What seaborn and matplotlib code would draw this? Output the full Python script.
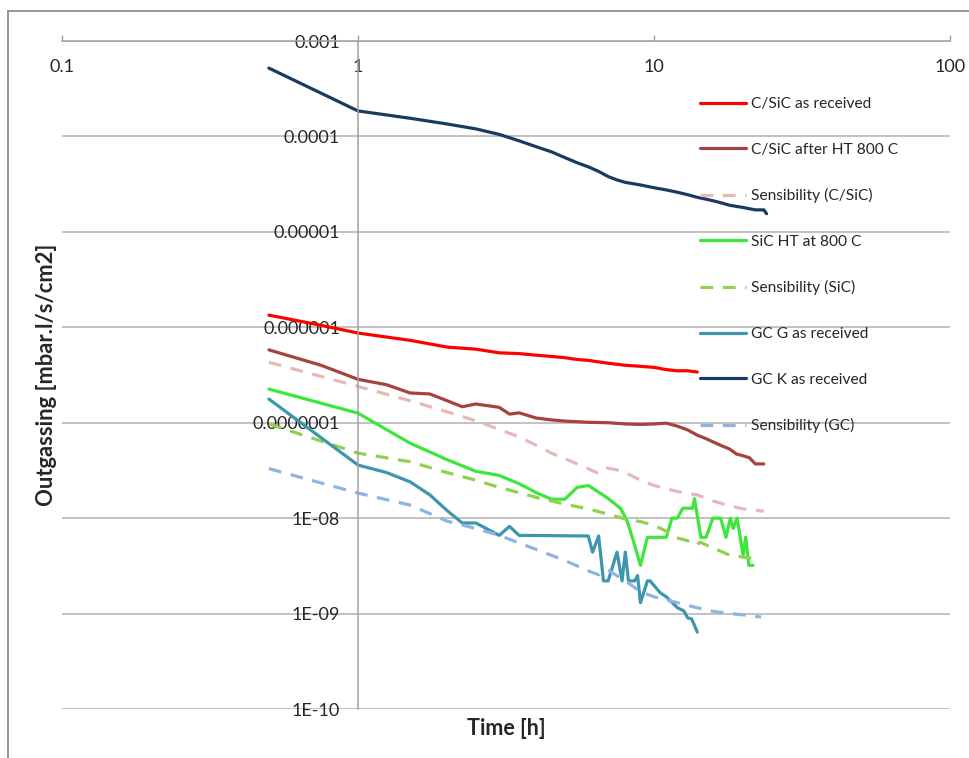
import numpy as np
import pandas as pd
import matplotlib
matplotlib.use("Agg")
import matplotlib.pyplot as plt
from matplotlib.lines import Line2D
from matplotlib.ticker import FixedLocator, FixedFormatter, NullLocator
import seaborn as sns

# values (time in h, outgassing in mbar.l/s/cm2)
cs_recv_t = [0.5, 0.75, 1.0, 1.5, 2.0, 2.5, 3.0, 3.5, 4.0, 4.5, 5.0, 5.5, 6.0, 7.0, 8.0, 9.0, 10, 11, 12, 13, 14]
cs_recv_v = [1.34e-6, 1.05e-6, 8.7e-7, 7.3e-7, 6.2e-7, 5.9e-7, 5.4e-7, 5.3e-7, 5.1e-7, 4.95e-7, 4.8e-7,
             4.6e-7, 4.5e-7, 4.2e-7, 4.0e-7, 3.9e-7, 3.8e-7, 3.6e-7, 3.5e-7, 3.5e-7, 3.4e-7]

cs_ht_t = [0.5, 0.75, 1.0, 1.25, 1.5, 1.75, 2.0, 2.25, 2.5, 3.0, 3.25, 3.5, 4.0, 4.5, 5.0, 6.0, 7.0, 8.0,
           9.0, 10, 11, 12, 13, 14, 15, 16, 17, 18, 19, 20, 21, 22, 23.5]
cs_ht_v = [5.8e-7, 4.0e-7, 2.85e-7, 2.5e-7, 2.05e-7, 2.0e-7, 1.7e-7, 1.47e-7, 1.57e-7, 1.45e-7, 1.23e-7,
           1.27e-7, 1.12e-7, 1.07e-7, 1.04e-7, 1.01e-7, 1.0e-7, 9.7e-8, 9.6e-8, 9.7e-8, 9.9e-8, 9.2e-8,
           8.4e-8, 7.4e-8, 6.8e-8, 6.2e-8, 5.7e-8, 5.3e-8, 4.7e-8, 4.5e-8, 4.3e-8, 3.7e-8, 3.7e-8]

cs_sens_t = [0.5, 1.0, 1.5, 2.0, 2.5, 3.0, 3.5, 4.0, 4.5, 5.0, 5.5, 6.0, 6.4, 6.8, 7.5, 8.0, 9.0, 10, 12,
             14, 16, 18, 20, 23.5]
cs_sens_v = [4.3e-7, 2.4e-7, 1.7e-7, 1.3e-7, 1.05e-7, 8.5e-8, 7.1e-8, 5.8e-8, 4.8e-8, 4.2e-8, 3.7e-8,
             3.3e-8, 3.0e-8, 3.4e-8, 3.2e-8, 3.0e-8, 2.5e-8, 2.2e-8, 1.9e-8, 1.75e-8, 1.5e-8, 1.35e-8,
             1.25e-8, 1.18e-8]

sic_t = [0.5, 1.0, 1.5, 2.0, 2.5, 3.0, 3.5, 4.0, 4.5, 5.0, 5.5, 6.0, 6.9, 7.7, 8.1, 8.5, 9.0, 9.5, 11.0,
         11.5, 12.0, 12.5, 13.5, 13.7, 14.4, 15.0, 15.8, 16.8, 17.5, 18.1, 18.5, 19.1, 20.0, 20.4, 20.9, 21.6]
sic_v = [2.25e-7, 1.26e-7, 6.1e-8, 4.1e-8, 3.1e-8, 2.8e-8, 2.3e-8, 1.85e-8, 1.58e-8, 1.58e-8, 2.1e-8,
         2.2e-8, 1.66e-8, 1.27e-8, 9.5e-9, 5.9e-9, 3.2e-9, 6.3e-9, 6.3e-9, 1.0e-8, 1.0e-8, 1.27e-8,
         1.27e-8, 1.6e-8, 6.3e-9, 6.3e-9, 1.0e-8, 1.0e-8, 6.3e-9, 1.0e-8, 7.8e-9, 1.0e-8, 4.1e-9, 6.3e-9,
         3.2e-9, 3.2e-9]

sic_sens_t = [0.5, 1.0, 1.5, 2.0, 2.5, 3.0, 3.5, 4.0, 5.0, 6.0, 7.0, 8.0, 9.0, 10, 11, 12, 13, 13.9, 14.3,
              16, 18, 20, 21.5]
sic_sens_v = [9.7e-8, 4.8e-8, 3.9e-8, 3.0e-8, 2.5e-8, 2.1e-8, 1.85e-8, 1.65e-8, 1.4e-8, 1.25e-8, 1.1e-8,
              9.8e-9, 9.2e-9, 8.4e-9, 7.3e-9, 6.2e-9, 5.8e-9, 5.2e-9, 5.6e-9, 4.8e-9, 4.1e-9, 3.9e-9, 3.8e-9]

gcg_t = [0.5, 1.0, 1.25, 1.5, 1.75, 2.0, 2.25, 2.5, 3.0, 3.25, 3.5, 6.0, 6.2, 6.5, 6.75, 7.0, 7.5, 7.8,
         8.0, 8.2, 8.6, 8.8, 9.0, 9.5, 9.7, 10.5, 11.0, 12.0, 12.6, 13.0, 13.4, 14.0]
gcg_v = [1.77e-7, 3.6e-8, 3.0e-8, 2.4e-8, 1.75e-8, 1.2e-8, 8.9e-9, 8.9e-9, 6.6e-9, 8.2e-9, 6.6e-9, 6.5e-9,
         4.4e-9, 6.5e-9, 2.2e-9, 2.2e-9, 4.4e-9, 2.2e-9, 4.4e-9, 2.2e-9, 2.2e-9, 2.5e-9, 1.3e-9, 2.2e-9,
         2.2e-9, 1.65e-9, 1.5e-9, 1.15e-9, 1.07e-9, 9.0e-10, 8.8e-10, 6.4e-10]

gck_t = [0.5, 1.0, 1.5, 2.0, 2.5, 3.0, 3.5, 4.0, 4.5, 5.0, 5.5, 6.0, 6.5, 7.0, 7.5, 8.0, 9.0, 10, 11, 12,
         13, 14, 15, 16, 17, 18, 20, 22, 23.5, 24]
gck_v = [5.2e-4, 1.85e-4, 1.55e-4, 1.35e-4, 1.2e-4, 1.05e-4, 9.0e-5, 7.8e-5, 6.9e-5, 6.0e-5, 5.3e-5,
         4.8e-5, 4.3e-5, 3.8e-5, 3.5e-5, 3.3e-5, 3.1e-5, 2.9e-5, 2.75e-5, 2.6e-5, 2.45e-5, 2.3e-5, 2.2e-5,
         2.1e-5, 2.0e-5, 1.9e-5, 1.8e-5, 1.7e-5, 1.7e-5, 1.55e-5]

gc_sens_t = [0.5, 1.0, 1.5, 2.0, 2.5, 3.0, 3.5, 4.0, 5.0, 6.0, 6.5, 7.0, 8.0, 9.0, 10, 12, 14, 16, 18, 20, 23]
gc_sens_v = [3.3e-8, 1.83e-8, 1.37e-8, 9.3e-9, 7.8e-9, 6.6e-9, 5.5e-9, 4.7e-9, 3.6e-9, 2.8e-9, 2.55e-9,
             2.85e-9, 2.2e-9, 1.7e-9, 1.5e-9, 1.3e-9, 1.15e-9, 1.05e-9, 1.0e-9, 9.7e-10, 9.2e-10]

series_names = ["C/SiC as received", "C/SiC after HT 800 C", "Sensibility (C/SiC)", "SiC HT at 800 C",
                "Sensibility (SiC)", "GC G as received", "GC K as received", "Sensibility (GC)"]
series_data = [(cs_recv_t, cs_recv_v), (cs_ht_t, cs_ht_v), (cs_sens_t, cs_sens_v), (sic_t, sic_v),
               (sic_sens_t, sic_sens_v), (gcg_t, gcg_v), (gck_t, gck_v), (gc_sens_t, gc_sens_v)]
colors = ["#FF0000", "#A6423F", "#E6B9B8", "#3CE63C", "#92D050", "#3D96AE", "#1B3A60", "#8DB4E2"]
dashed = [False, False, True, False, True, False, False, True]

x_ticks = [0.1, 1, 10, 100]
x_labels = ["0.1", "1", "10", "100"]
y_ticks = [1e-10, 1e-9, 1e-8, 1e-7, 1e-6, 1e-5, 1e-4, 1e-3]
y_labels = ["1E-10", "1E-09", "1E-08", "0.0000001", "0.000001", "0.00001", "0.0001", "0.001"]

sns.set_theme(style="white")
plt.rcParams["font.family"] = ["Lato", "DejaVu Sans"]

fig = plt.figure(figsize=(9.69, 7.58), dpi=100)
ax = fig.add_axes([62 / 969, 1 - 709 / 758, 888 / 969, 668 / 758])

for name, (t, v), c, d in zip(series_names, series_data, colors, dashed):
    df = pd.DataFrame({"time": t, "outgassing": v})
    ls = (0, (4, 3)) if d else "-"
    sns.lineplot(data=df, x="time", y="outgassing", ax=ax, color=c, linewidth=2.3,
                 linestyle=ls, label=name, sort=False, estimator=None)

ax.set_xscale("log")
ax.set_yscale("log")
ax.set_xlim(0.1, 100)
ax.set_ylim(1e-10, 1e-3)

ax.xaxis.set_major_locator(FixedLocator(x_ticks))
ax.xaxis.set_major_formatter(FixedFormatter(x_labels))
ax.yaxis.set_major_locator(FixedLocator(y_ticks))
ax.yaxis.set_major_formatter(FixedFormatter(y_labels))
ax.xaxis.set_minor_locator(NullLocator())
ax.yaxis.set_minor_locator(NullLocator())

ax.xaxis.tick_top()
ax.tick_params(axis="x", which="major", top=True, bottom=False, labeltop=True, labelbottom=False,
               direction="out", length=4, width=1, color="#A0A0A0", pad=-28.5, labelsize=13)
ax.tick_params(axis="y", which="major", length=0, pad=13, labelsize=13)

ax.spines["right"].set_visible(False)
ax.spines["bottom"].set_visible(False)
ax.spines["left"].set_position(("data", 1))
for s in ["left", "top"]:
    ax.spines[s].set_color("#A0A0A0")
    ax.spines[s].set_linewidth(1.1)

ax.yaxis.grid(True, color="#BDBDBD", linewidth=1.3)
ax.xaxis.grid(False)

ax.set_xlabel("Time [h]", fontsize=15.5, fontweight="bold")
ax.xaxis.set_label_position("bottom")
ax.xaxis.set_label_coords(0.5, -0.014)
ax.set_ylabel("Outgassing [mbar.l/s/cm2]", fontsize=15.8, fontweight="bold")
ax.yaxis.set_label_coords(-0.006, 0.5)

ax.legend(loc="upper left", bbox_to_anchor=(700 / 969, 1 - 97 / 758), bbox_transform=fig.transFigure,
          frameon=False, fontsize=11.2, handlelength=2.95, handletextpad=0.3, labelspacing=2.03,
          borderpad=0, borderaxespad=0)

# outer chart border (top and left visible)
fig.add_artist(Line2D([8 / 969, 1], [1 - 11 / 758, 1 - 11 / 758], transform=fig.transFigure,
                      color="#8C8C8C", linewidth=1.3))
fig.add_artist(Line2D([8 / 969, 8 / 969], [0, 1 - 11 / 758], transform=fig.transFigure,
                      color="#8C8C8C", linewidth=1.3))

fig.savefig("out.png", dpi=100)
